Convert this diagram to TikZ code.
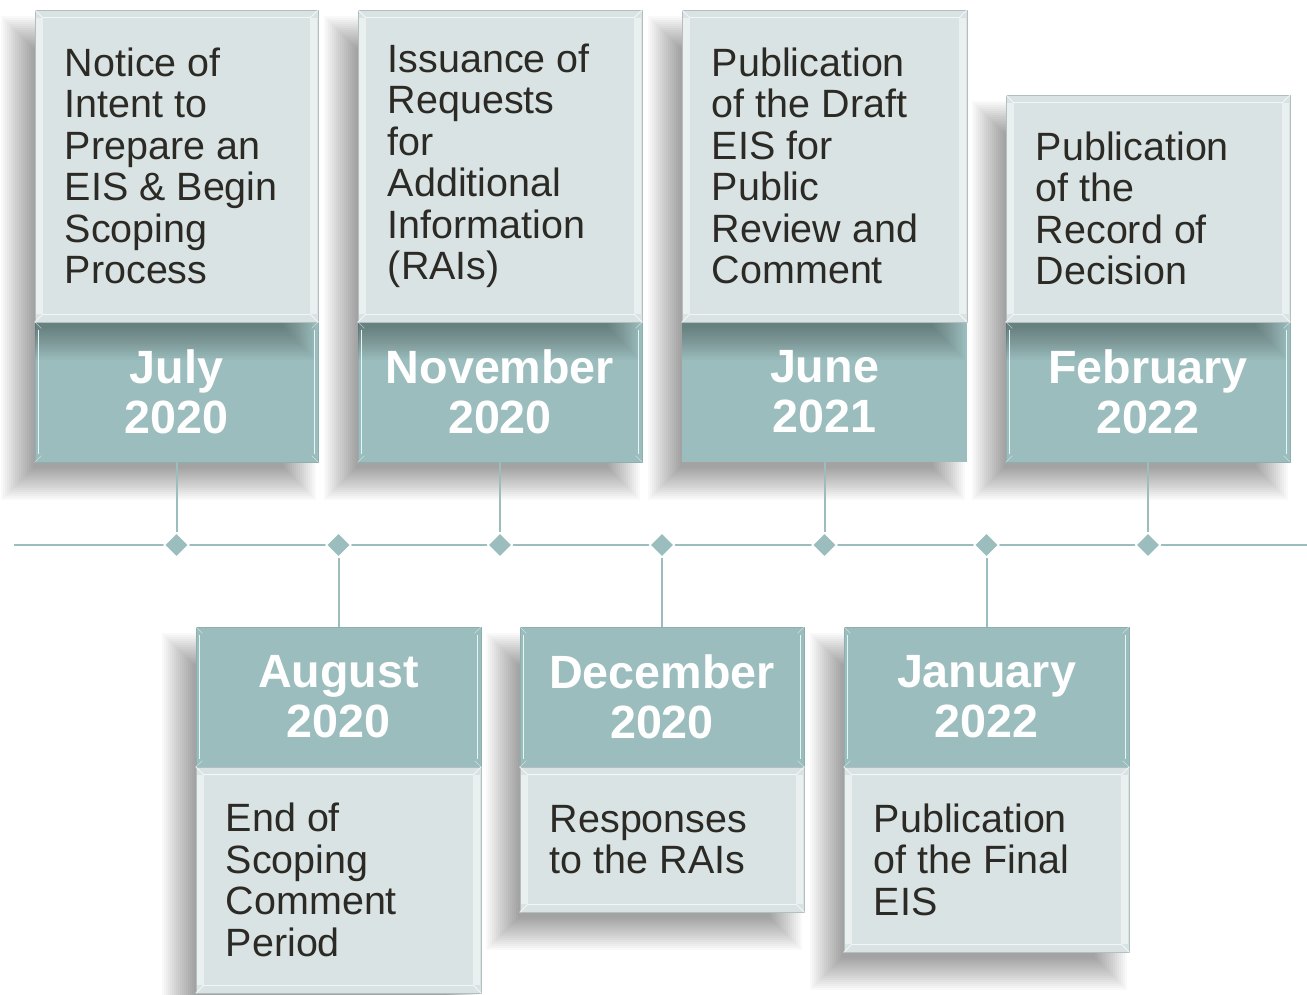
\documentclass[tikz,border=0pt]{standalone}
\usepackage{fontspec}
\setmainfont{Liberation Sans}
\usetikzlibrary{fit,shapes.geometric}
\definecolor{boxlight}{HTML}{DAE3E4}
\definecolor{tealband}{HTML}{9BBDBD}
\definecolor{txtcol}{HTML}{2B2A25}
\definecolor{edgegray}{HTML}{B2BEBF}
\definecolor{tealedge}{HTML}{8FAFAF}
\definecolor{glint}{HTML}{E2F6F6}

% soft shadow: x1 y1 x2 y2 opacity
\newcommand\softshadow[5]{%
  \foreach \s in {0,...,16}{%
    \fill[black,opacity=#5] ({#1-18-2*(\s-8)},{#2+22-2*(\s-8)}) rectangle ({#3-18+2*(\s-8)},{#4+22+2*(\s-8)});
  }%
}
% bevel on a light box
\newcommand\lightbevel[1]{%
  \fill[white,opacity=0.45] ([xshift=1pt,yshift=-6pt]#1.north west) rectangle ([xshift=6pt,yshift=6pt]#1.south west);
  \fill[white,opacity=0.45] ([xshift=-1pt,yshift=-6pt]#1.north east) rectangle ([xshift=-6pt,yshift=6pt]#1.south east);
  \draw[white,opacity=0.7,line width=0.6pt] (#1.north west) -- ++(6pt,-6pt) -- ([xshift=-6pt,yshift=-6pt]#1.north east) -- (#1.north east);
  \draw[white,opacity=0.7,line width=0.6pt] (#1.south west) -- ++(6pt,6pt) -- ([xshift=-6pt,yshift=6pt]#1.south east) -- (#1.south east);
}
% bevel on a teal band
\newcommand\tealbevel[1]{%
  \draw[glint,line width=1.2pt] ([xshift=3pt,yshift=-6pt]#1.north west) -- ([xshift=3pt,yshift=6pt]#1.south west);
  \draw[glint,line width=1.2pt] ([xshift=-3pt,yshift=-6pt]#1.north east) -- ([xshift=-3pt,yshift=6pt]#1.south east);
  \draw[white,opacity=0.5,line width=0.5pt] (#1.north west) -- ++(5pt,-5pt);
  \draw[white,opacity=0.5,line width=0.5pt] (#1.north east) -- ++(-5pt,-5pt);
  \draw[white,opacity=0.5,line width=0.5pt] (#1.south west) -- ++(5pt,5pt);
  \draw[white,opacity=0.5,line width=0.5pt] (#1.south east) -- ++(-5pt,5pt);
}

\begin{document}
\begin{tikzpicture}[x=0.75pt,y=-0.75pt,
  lightbox/.style={fill=boxlight, draw=edgegray, line width=0.6pt, inner sep=0pt},
  datebox/.style={fill=tealband, draw=tealedge, line width=0.5pt, inner sep=0pt},
  bodytxt/.style={text=txtcol, align=left, inner sep=0pt, anchor=west,
    font=\fontsize{29.6}{31.1}\selectfont},
  datetxt/.style={text=white, align=center, inner sep=0pt,
    font=\bfseries\fontsize{35}{37.5}\selectfont},
  tline/.style={tealband, line width=2.2pt},
  conn/.style={tealband, line width=1.5pt},
  dia/.style={diamond, fill=tealband, draw=white, line width=1.2pt,
    minimum width=19pt, minimum height=19pt, inner sep=0pt}
]
\useasboundingbox[fill=white] (0,0) rectangle (1307,995);

% shadows
\softshadow{35}{10}{318}{462}{0.022}
\softshadow{358}{10}{642}{462}{0.022}
\softshadow{682}{10}{967}{462}{0.022}
\softshadow{1006}{95}{1290}{462}{0.022}
\softshadow{196}{627}{481}{993}{0.022}
\softshadow{520}{627}{804}{912}{0.022}
\softshadow{844}{627}{1129}{952}{0.022}

% timeline
\coordinate (lstart) at (14,545);
\coordinate (lend) at (1307,545);
\draw[tline] (lstart) -- (lend);

% ---------- top boxes ----------
\node[fit={(35,322)(318,462)}, datebox] (b1) {};
\begin{scope}\clip (35,322) rectangle (318,462); \softshadow{35}{10}{318}{322}{0.018}\end{scope}
\node[fit={(35,10)(318,322)}, lightbox] (t1) {};
\lightbevel{t1}\tealbevel{b1}

\node[fit={(358,322)(642,462)}, datebox] (b2) {};
\begin{scope}\clip (358,322) rectangle (642,462); \softshadow{358}{10}{642}{322}{0.018}\end{scope}
\node[fit={(358,10)(642,322)}, lightbox] (t2) {};
\lightbevel{t2}\tealbevel{b2}

\node[fit={(682,322)(967,462)}, fill=tealband, inner sep=0pt] (b3) {};
\begin{scope}\clip (682,322) rectangle (967,462); \softshadow{682}{10}{967}{322}{0.018}\end{scope}
\node[fit={(682,10)(967,322)}, lightbox] (t3) {};
\lightbevel{t3}

\node[fit={(1006,322)(1290,462)}, datebox] (b4) {};
\begin{scope}\clip (1006,322) rectangle (1290,462); \softshadow{1006}{95}{1290}{322}{0.018}\end{scope}
\node[fit={(1006,95)(1290,322)}, lightbox] (t4) {};
\lightbevel{t4}\tealbevel{b4}

% ---------- bottom boxes ----------
\node[fit={(196,627)(481,767)}, datebox] (b5) {};
\node[fit={(196,767)(481,993)}, lightbox] (t5) {};
\lightbevel{t5}\tealbevel{b5}

\node[fit={(520,627)(804,767)}, datebox] (b6) {};
\node[fit={(520,767)(804,912)}, lightbox] (t6) {};
\lightbevel{t6}\tealbevel{b6}

\node[fit={(844,627)(1129,767)}, datebox] (b7) {};
\node[fit={(844,767)(1129,952)}, lightbox] (t7) {};
\lightbevel{t7}\tealbevel{b7}

% diamonds
\node[dia] (d1) at (176.5,545) {};
\node[dia] (d2) at (338.5,545) {};
\node[dia] (d3) at (500,545) {};
\node[dia] (d4) at (662,545) {};
\node[dia] (d5) at (824.5,545) {};
\node[dia] (d6) at (986.5,545) {};
\node[dia] (d7) at (1148,545) {};

% connectors
\draw[conn] (b1.south) -- (d1.north);
\draw[conn] (b2.south) -- (d3.north);
\draw[conn] (b3.south) -- (d5.north);
\draw[conn] (b4.south) -- (d7.north);
\draw[conn] (d2.south) -- (b5.north);
\draw[conn] (d4.south) -- (b6.north);
\draw[conn] (d6.south) -- (b7.north);

% texts
\node[bodytxt] (x1) at ([xshift=22.5pt]t1.west) {Notice of\\Intent to\\Prepare an\\EIS \& Begin\\Scoping\\Process};
\node[bodytxt] (x2) at ([xshift=22.5pt]t2.west) {Issuance of\\Requests\\for\\Additional\\Information\\(RAIs)};
\node[bodytxt] (x3) at ([xshift=22.5pt]t3.west) {Publication\\of the Draft\\EIS for\\Public\\Review and\\Comment};
\node[bodytxt] (x4) at ([xshift=22.5pt]t4.west) {Publication\\of the\\Record of\\Decision};
\node[bodytxt] (x5) at ([xshift=22.5pt]t5.west) {End of\\Scoping\\Comment\\Period};
\node[bodytxt] (x6) at ([xshift=22.5pt]t6.west) {Responses\\to the RAIs};
\node[bodytxt] (x7) at ([xshift=22.5pt]t7.west) {Publication\\of the Final\\EIS};

\node[datetxt] (y1) at (b1.center) {July\\2020};
\node[datetxt] (y2) at (b2.center) {November\\2020};
\node[datetxt] (y3) at (b3.center) {June\\2021};
\node[datetxt] (y4) at (b4.center) {February\\2022};
\node[datetxt] (y5) at (b5.center) {August\\2020};
\node[datetxt] (y6) at (b6.center) {December\\2020};
\node[datetxt] (y7) at (b7.center) {January\\2022};
\end{tikzpicture}
\end{document}
